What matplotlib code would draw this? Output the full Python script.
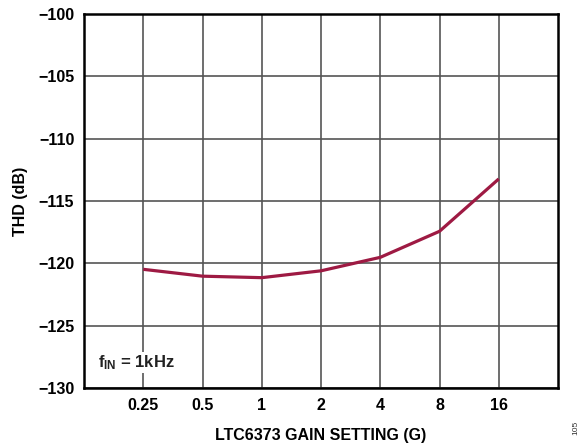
import matplotlib
matplotlib.use('Agg')
import matplotlib.pyplot as plt

plt.rcParams['font.family'] = ['Liberation Sans', 'DejaVu Sans']
plt.rcParams['font.weight'] = 'bold'
plt.rcParams['mathtext.fontset'] = 'custom'
plt.rcParams['mathtext.rm'] = 'Liberation Sans:bold'
plt.rcParams['mathtext.bf'] = 'Liberation Sans:bold'
plt.rcParams['mathtext.it'] = 'Liberation Sans:bold'

# gain settings and THD values
gain = ['0.25', '0.5', '1', '2', '4', '8', '16']
thd = [-120.48, -121.03, -121.15, -120.6, -119.52, -117.43, -113.23]

fig = plt.figure(figsize=(5.85, 4.48), dpi=100)
ax = fig.add_axes([84/585, 1-388/448, (558-84)/585, (388-14)/448])

pos = list(range(len(gain)))
ax.plot(pos, thd, color='#9E1A43', lw=2.3, solid_capstyle='butt', zorder=3)

ax.set_xlim(-1, 7)
ax.set_ylim(-130, -100)
ax.set_xticks(pos)
ax.set_xticklabels(gain)
ax.set_yticks(range(-130, -99, 5))
ax.grid(True, color='#555555', lw=1.2)
ax.set_axisbelow(True)
ax.tick_params(which='both', length=0)
ax.tick_params(axis='both', labelsize=11.5, pad=7)
for s in ax.spines.values():
    s.set_linewidth(1.8)

ax.set_ylabel('THD (dB)', fontsize=11.5, fontweight='bold', labelpad=7)
ax.set_xlabel('LTC6373 GAIN SETTING (G)', fontsize=11.5, fontweight='bold', labelpad=11)

ax.text(0.03, 0.055, r'$\mathregular{f_{IN}}$ = 1kHz', transform=ax.transAxes,
        fontsize=12, fontweight='bold', color='#222222', zorder=4,
        bbox=dict(facecolor='white', edgecolor='none', pad=1))

fig.text(0.985, 0.045, '105', rotation=90, fontsize=6, fontweight='normal',
         color='#333333', ha='center', va='center')

fig.savefig('out.png', dpi=100)
